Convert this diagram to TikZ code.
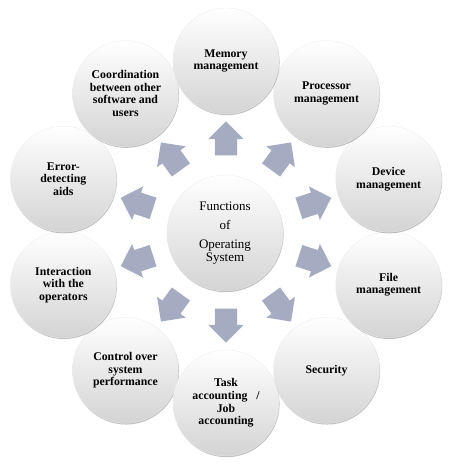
\documentclass[tikz,border=0pt]{standalone}
\usepackage{fontspec}
\setmainfont{Liberation Serif}
\usetikzlibrary{shapes.arrows,shadows,calc}
\definecolor{arrowfill}{RGB}{165,172,193}
\tikzset{
  outer/.style={circle, minimum size=106pt, inner sep=0pt, align=center,
    top color=white, bottom color=black!17, draw=black!8, line width=0.3pt,
    drop shadow={shadow xshift=0.6pt, shadow yshift=-1.2pt, opacity=0.25, fill=black},
    font=\fontsize{11.8}{12.6}\selectfont\bfseries},
  hub/.style={circle, minimum size=116pt, inner sep=0pt, align=center,
    top color=white, bottom color=black!17, draw=black!8, line width=0.3pt,
    drop shadow={shadow xshift=0.6pt, shadow yshift=-1.2pt, opacity=0.25, fill=black},
    font=\fontsize{13}{13}\selectfont},
  blockarrow/.style={single arrow, fill=arrowfill, draw=none,
    minimum height=34pt, inner xsep=0pt, inner ysep=11pt,
    single arrow head extend=6.5pt, single arrow tip angle=90},
}
\begin{document}
\begin{tikzpicture}[x=1pt,y=1pt]
\useasboundingbox (0,0) rectangle (462,464);
\coordinate (o) at (226,232);
\node[hub] (ctr) at (225,231) {Functions\\[6pt]of\\[6pt]Operating\\System};
\node[outer] (sec)   at ($(o)+(-54:171)$)  {Security};
\node[outer] (ctrl)  at ($(o)+(-126:171)$) {Control over\\system\\performance};
\node[outer] (task)  at ($(o)+(-90:171)$)  {Task\\accounting\ \ \ /\\Job\\accounting};
\node[outer] (file)  at ($(o)+(-18:171)$)  {File\\management};
\node[outer] (inter) at ($(o)+(-162:171)$) {Interaction\\with the\\operators};
\node[outer] (dev)   at ($(o)+(18:171)$)   {Device\\management};
\node[outer] (err)   at ($(o)+(162:171)$)  {Error-\\detecting\\aids};
\node[outer] (proc)  at ($(o)+(54:171)$)   {Processor\\management};
\node[outer] (coord) at ($(o)+(126:171)$)  {Coordination\\between other\\software and\\users};
\node[outer] (mem)   at ($(o)+(90:171)$)   {Memory\\management};
\foreach \n/\a in {mem/90, proc/54, dev/18, file/-18, sec/-54, task/-90, ctrl/-126, inter/-162, err/162, coord/126}{
  \node[blockarrow, rotate=\a] (arr-\n) at ($(o)!0.515!(\n)$) {};
}
\end{tikzpicture}
\end{document}
